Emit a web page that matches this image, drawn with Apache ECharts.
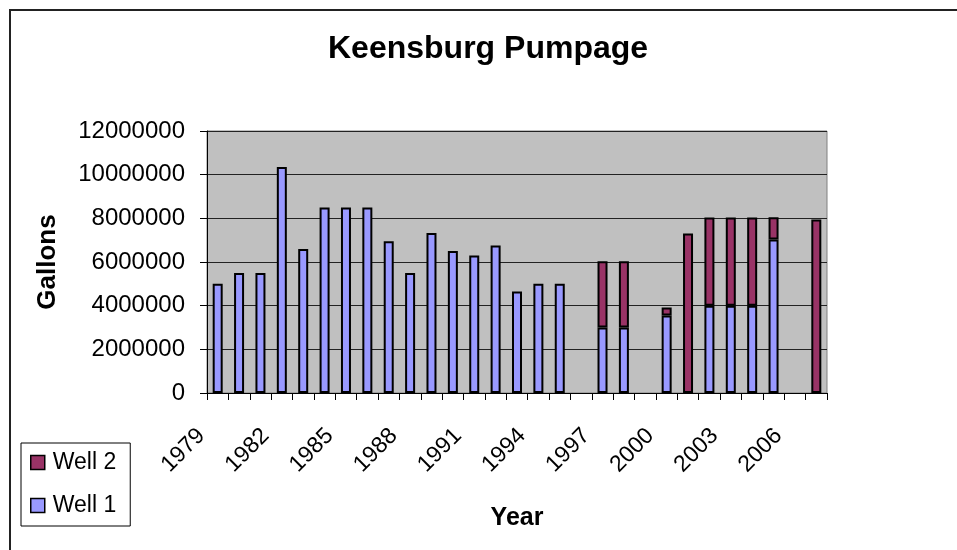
<!DOCTYPE html>
<html>
<head>
<meta charset="utf-8">
<script src="https://cdn.jsdelivr.net/npm/echarts@6/dist/echarts.min.js"></script>
<style>
    html, body { margin: 0; padding: 0; background: #fff; }
    #chart { width: 957px; height: 550px; }
</style>
</head>
<body>
<div id="chart"></div>
<script>
// years on the x axis
var years = ['1979', '1980', '1981', '1982', '1983', '1984', '1985', '1986', '1987', '1988',
    '1989', '1990', '1991', '1992', '1993', '1994', '1995', '1996', '1997', '1998',
    '1999', '2000', '2001', '2002', '2003', '2004', '2005', '2006', '2007'];

// gallons pumped
var well1 = [5000000, 5500000, 5500000, 10350000, 6600000, 8500000, 8500000, 8500000, 6950000, 5500000,
    7330000, 6500000, 6300000, 6760000, 4650000, 5000000, 5000000, null, 3000000, 3000000,
    null, 3550000, null, 4000000, 4000000, 4000000, 7030000, null, null];
var well2 = [null, null, null, null, null, null, null, null, null, null,
    null, null, null, null, null, null, null, null, 3030000, 3030000,
    null, 370000, 7310000, 4040000, 4040000, 4040000, 1020000, null, 7950000];

var yTicks = { min: 0, max: 12000000, step: 2000000 };

var font = '"Liberation Sans", Arial, sans-serif';

var chart = echarts.init(document.getElementById('chart'));

chart.setOption({
    animation: false,
    backgroundColor: '#fff',
    textStyle: { fontFamily: font },
    graphic: [{
        // outer chart border
        type: 'rect',
        shape: { x: 10, y: 10, width: 980, height: 580 },
        style: { fill: 'none', stroke: '#222', lineWidth: 2 },
        silent: true
    }],
    title: {
        text: 'Keensburg Pumpage',
        left: 328,
        top: 33,
        padding: 0,
        textStyle: { fontFamily: font, fontSize: 32, fontWeight: 'bold', color: '#000' }
    },
    legend: {
        data: ['Well 2', 'Well 1'],
        orient: 'vertical',
        left: 21,
        top: 443,
        padding: [8, 14, 9, 9],
        itemGap: 20,
        itemWidth: 14,
        itemHeight: 14,
        icon: 'rect',
        borderColor: '#000',
        borderWidth: 1,
        backgroundColor: '#fff',
        itemStyle: { borderColor: '#000', borderWidth: 1.5 },
        textStyle: { fontFamily: font, fontSize: 23, color: '#000', padding: [0, 0, 0, 3] }
    },
    grid: {
        left: 207,
        top: 131,
        right: 130,
        bottom: 157,
        show: true,
        backgroundColor: '#C0C0C0',
        borderColor: '#808080',
        borderWidth: 1
    },
    xAxis: {
        type: 'category',
        data: years,
        name: 'Year',
        nameLocation: 'middle',
        nameGap: 113,
        nameTextStyle: { fontFamily: font, fontSize: 25, fontWeight: 'bold', color: '#000' },
        axisLine: { lineStyle: { color: '#000', width: 1 } },
        axisTick: { show: true, interval: 0, length: 7, lineStyle: { color: '#000' } },
        axisLabel: {
            interval: 2,
            rotate: 45,
            margin: 23,
            padding: [0, 23, 0, 0],
            fontSize: 23,
            fontFamily: font,
            color: '#000'
        }
    },
    yAxis: {
        type: 'value',
        min: yTicks.min,
        max: yTicks.max,
        interval: yTicks.step,
        name: 'Gallons',
        nameLocation: 'middle',
        nameRotate: 90,
        nameGap: 146,
        nameTextStyle: { fontFamily: font, fontSize: 26, fontWeight: 'bold', color: '#000' },
        axisLine: { show: true, lineStyle: { color: '#000', width: 1 } },
        axisTick: { show: true, length: 7, lineStyle: { color: '#000' } },
        axisLabel: {
            margin: 22,
            fontSize: 24,
            fontFamily: font,
            color: '#000',
            formatter: function (v) { return String(v); }
        },
        splitLine: { show: true, lineStyle: { color: '#222', width: 1 } }
    },
    series: [{
            name: 'Well 1',
            type: 'bar',
            stack: 'pump',
            barWidth: 10,
            itemStyle: { color: '#9999FF', borderColor: '#000', borderWidth: 2 },
            data: well1
        },
        {
            name: 'Well 2',
            type: 'bar',
            stack: 'pump',
            barWidth: 10,
            itemStyle: { color: '#993366', borderColor: '#000', borderWidth: 2 },
            data: well2
        }
    ]
});
</script>
</body>
</html>
